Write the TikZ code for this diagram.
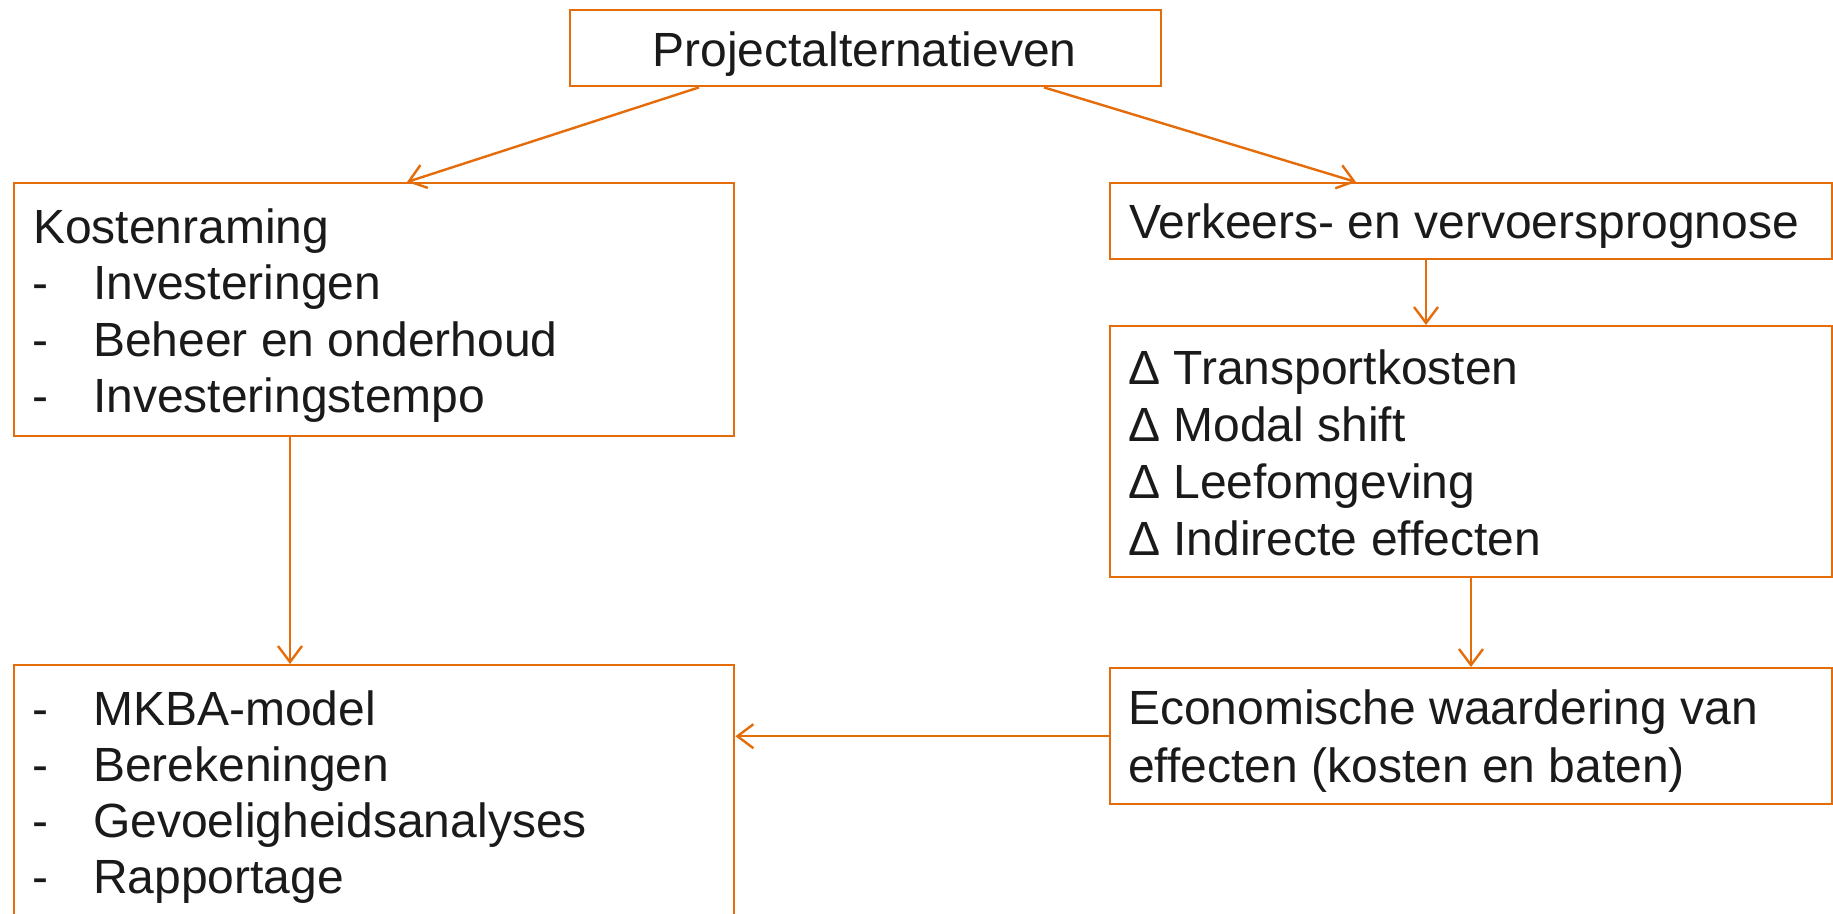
\documentclass[tikz,border=0pt]{standalone}
\usepackage{fontspec}
\setmainfont{Liberation Sans}
\usetikzlibrary{arrows.meta,calc}
\definecolor{org}{RGB}{228,108,10}
\definecolor{txtc}{RGB}{26,26,26}
\begin{document}
\begin{tikzpicture}[x=1pt,y=-1pt,
  box/.style={draw=org,line width=2.4pt,inner sep=0pt,anchor=north west},
  lbl/.style={text=txtc,font=\fontsize{48}{57}\selectfont,inner sep=0pt,anchor=base west},
  arr/.style={draw=org,line width=2.4pt,-{Straight Barb[length=16pt,width=24pt,line width=2.4pt]}}]
\useasboundingbox (0,0) rectangle (1833,913);
\clip (0,0) rectangle (1833,913);
% boxes
\node[box,minimum width=591pt,minimum height=76pt] (top) at (569,9) {};
\node[box,minimum width=720pt,minimum height=253pt] (kost) at (13,182) {};
\node[box,minimum width=722pt,minimum height=76pt] (verk) at (1109,182) {};
\node[box,minimum width=722pt,minimum height=251pt] (delta) at (1109,325) {};
\node[box,minimum width=722pt,minimum height=136pt] (econ) at (1109,667) {};
\node[box,minimum width=720pt,minimum height=300pt] (res) at (13,664) {};
% texts
\newcommand{\dsh}{\makebox[61pt][l]{-}}
\node[lbl,anchor=base] (t0) at (864.5,66) {Projectalternatieven};
\node[lbl] (k1) at (33,243) {Kostenraming};
\node[lbl] (k2) at (32,299) {\dsh Investeringen};
\node[lbl] (k3) at (32,356) {\dsh Beheer en onderhoud};
\node[lbl] (k4) at (32,412) {\dsh Investeringstempo};
\node[lbl] (v1) at (1129,238) {Verkeers- en vervoersprognose};
\node[lbl] (d1) at (1128,384) {Δ Transportkosten};
\node[lbl] (d2) at (1128,441) {Δ Modal shift};
\node[lbl] (d3) at (1128,498) {Δ Leefomgeving};
\node[lbl] (d4) at (1128,555) {Δ Indirecte effecten};
\node[lbl] (e1) at (1128,724) {Economische waardering van};
\node[lbl] (e2) at (1128,782) {effecten (kosten en baten)};
\node[lbl] (r1) at (32,725) {\dsh MKBA-model};
\node[lbl] (r2) at (32,781) {\dsh Berekeningen};
\node[lbl] (r3) at (32,837) {\dsh Gevoeligheidsanalyses};
\node[lbl] (r4) at (32,893) {\dsh Rapportage};
% connectors
\draw[arr] ([xshift=130pt]top.south west) -- ([xshift=394pt]kost.north west);
\draw[arr] ([xshift=475pt]top.south west) -- ([xshift=247pt]verk.north west);
\draw[arr] ([xshift=277pt]kost.south west) -- ([xshift=277pt]res.north west);
\draw[arr] ([xshift=317pt]verk.south west) -- ([xshift=317pt]delta.north west);
\draw[arr] ([xshift=362pt]delta.south west) -- ([xshift=362pt]econ.north west);
\draw[arr] (econ.west) -- (econ.west -| res.east);
\end{tikzpicture}
\end{document}
